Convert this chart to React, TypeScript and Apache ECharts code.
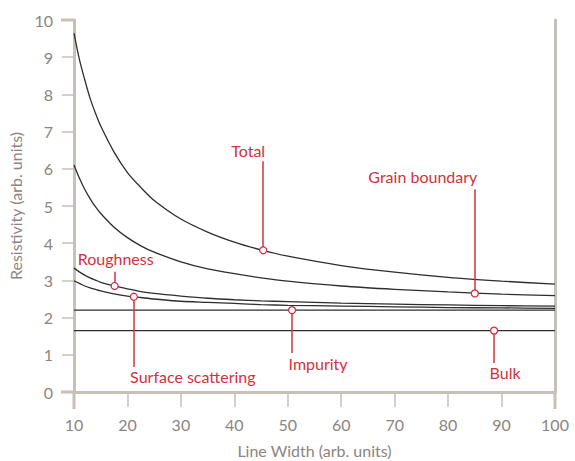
import React, { useEffect, useRef } from "react";
import * as echarts from "echarts";

// Line width samples (arb. units)
const widths = [10, 11, 12, 13, 14, 15, 17.5, 20, 22.5, 25, 30, 35, 40, 45, 50, 60, 70, 80, 90, 100];
// Cumulative resistivity contributions
const total = [9.65, 8.95, 8.4, 7.9, 7.5, 7.15, 6.45, 5.9, 5.5, 5.15, 4.65, 4.3, 4.03, 3.82, 3.65, 3.4, 3.22, 3.08, 2.98, 2.9];
const grainBoundary = [6.1, 5.75, 5.45, 5.2, 4.98, 4.8, 4.43, 4.15, 3.93, 3.76, 3.5, 3.31, 3.18, 3.07, 2.98, 2.85, 2.76, 2.69, 2.63, 2.59];
const roughness = [3.33, 3.23, 3.14, 3.07, 3.01, 2.95, 2.85, 2.77, 2.7, 2.65, 2.58, 2.52, 2.48, 2.45, 2.43, 2.39, 2.36, 2.34, 2.32, 2.31];
const surfaceScattering = [2.99, 2.92, 2.85, 2.8, 2.76, 2.72, 2.64, 2.58, 2.54, 2.5, 2.44, 2.41, 2.38, 2.35, 2.33, 2.31, 2.29, 2.27, 2.26, 2.25];
const flatWidths = [10, 100];
const impurity = [2.2, 2.2];
const bulk = [1.65, 1.65];

// Annotations
const annotNames = ["Total", "Grain boundary", "Roughness", "Surface scattering", "Impurity", "Bulk"];
const annotX = [45.4, 85, 17.6, 21.2, 50.8, 88.6];
const annotY = [3.81, 2.65, 2.85, 2.56, 2.2, 1.65];
const leaderEndY = [6.2, 5.45, 3.23, 0.67, 1.05, 0.78];

// Axis ticks
const xTicks = { min: 10, max: 100, interval: 10 };
const yTicks = { min: 0, max: 10, interval: 1 };

// layout: label offsets (px) relative to markers
const labelOffsets: [number, number][] = [
  [-15, -100],
  [-52, -117],
  [1, -27],
  [59, 80],
  [26, 53],
  [11, 42],
];

const AXIS = "#c9bfb7";
const TICKTEXT = "#8c8580";
const RED = "#d2323e";
const CURVE = "#2e2e2e";
const FONT = "Lato";

const pairs = (xs: number[], ys: number[]) => xs.map((x, i) => [x, ys[i]]);

export default function App() {
  const ref = useRef<HTMLDivElement>(null);
  useEffect(() => {
    if (!ref.current) return;
    const chart = echarts.init(ref.current, undefined, { renderer: "svg" });
    const curve = (name: string, data: number[][]) => ({
      name,
      type: "line",
      data,
      smooth: 0.3,
      showSymbol: false,
      symbol: "none",
      lineStyle: { color: CURVE, width: 1.3 },
      z: 2,
      silent: true,
    });
    const option = {
      animation: false,
      textStyle: { fontFamily: FONT },
      grid: { left: 74, right: 20, top: 20, bottom: 69, outerBoundsMode: "none", containLabel: false },
      xAxis: [
        {
          type: "value",
          ...xTicks,
          position: "bottom",
          name: "Line Width (arb. units)",
          nameLocation: "middle",
          nameGap: 50,
          nameTextStyle: { color: TICKTEXT, fontSize: 16, fontFamily: FONT },
          axisLine: { show: true, lineStyle: { color: AXIS, width: 3 } },
          axisTick: { show: true, length: 15, lineStyle: { color: AXIS, width: 1.5 } },
          axisLabel: { color: TICKTEXT, fontSize: 16, margin: 24, fontFamily: FONT },
          splitLine: { show: false },
        },
        {
          type: "value",
          ...xTicks,
          position: "top",
          axisLine: { show: true, lineStyle: { color: AXIS, width: 3 } },
          axisTick: { show: false },
          axisLabel: { show: false },
          splitLine: { show: false },
        },
      ],
      yAxis: [
        {
          type: "value",
          ...yTicks,
          position: "left",
          name: "Resistivity (arb. units)",
          nameLocation: "middle",
          nameGap: 45,
          nameTextStyle: { color: TICKTEXT, fontSize: 16, fontFamily: FONT },
          axisLine: { show: true, lineStyle: { color: AXIS, width: 3 } },
          axisTick: { show: true, length: 12, lineStyle: { color: AXIS, width: 1.5 } },
          axisLabel: { color: TICKTEXT, fontSize: 16, margin: 21, fontFamily: FONT },
          splitLine: { show: false },
        },
        {
          type: "value",
          ...yTicks,
          position: "right",
          axisLine: { show: true, lineStyle: { color: AXIS, width: 3 } },
          axisTick: { show: false },
          axisLabel: { show: false },
          splitLine: { show: false },
        },
      ],
      graphic: [
        { type: "line", shape: { x1: 61, y1: 20, x2: 74, y2: 20 }, style: { stroke: AXIS, lineWidth: 3 } },
        { type: "line", shape: { x1: 61, y1: 392, x2: 74, y2: 392 }, style: { stroke: AXIS, lineWidth: 3 } },
        { type: "line", shape: { x1: 74, y1: 392, x2: 74, y2: 409 }, style: { stroke: AXIS, lineWidth: 3 } },
        { type: "line", shape: { x1: 555, y1: 392, x2: 555, y2: 409 }, style: { stroke: AXIS, lineWidth: 3 } },
      ],
      series: [
        curve("Total", pairs(widths, total)),
        curve("Grain boundary", pairs(widths, grainBoundary)),
        curve("Roughness", pairs(widths, roughness)),
        curve("Surface scattering", pairs(widths, surfaceScattering)),
        curve("Impurity", pairs(flatWidths, impurity)),
        curve("Bulk", pairs(flatWidths, bulk)),
        {
          name: "leaders",
          type: "scatter",
          data: [],
          z: 3,
          silent: true,
          markLine: {
            silent: true,
            symbol: "none",
            label: { show: false },
            lineStyle: { color: RED, width: 1.5, type: "solid" },
            data: annotNames.map((_, i) => [
              { coord: [annotX[i], annotY[i]] },
              { coord: [annotX[i], leaderEndY[i]] },
            ]),
          },
        },
        {
          name: "annotations",
          type: "scatter",
          z: 5,
          silent: true,
          symbol: "circle",
          symbolSize: 7,
          itemStyle: { color: "#ffffff", borderColor: RED, borderWidth: 1.3, opacity: 1 },
          data: annotNames.map((n, i) => ({
            name: n,
            value: [annotX[i], annotY[i]],
            label: {
              show: true,
              formatter: n,
              position: "inside",
              offset: labelOffsets[i],
              color: RED,
              fontSize: 16,
              fontFamily: FONT,
              align: "center",
              verticalAlign: "middle",
            },
          })),
        },
      ],
    };
    chart.setOption(option as any);
    return () => chart.dispose();
  }, []);
  return (
    <div
      ref={ref}
      style={{ position: "absolute", left: 0, top: 0, width: 575, height: 461, background: "#fff" }}
    />
  );
}
